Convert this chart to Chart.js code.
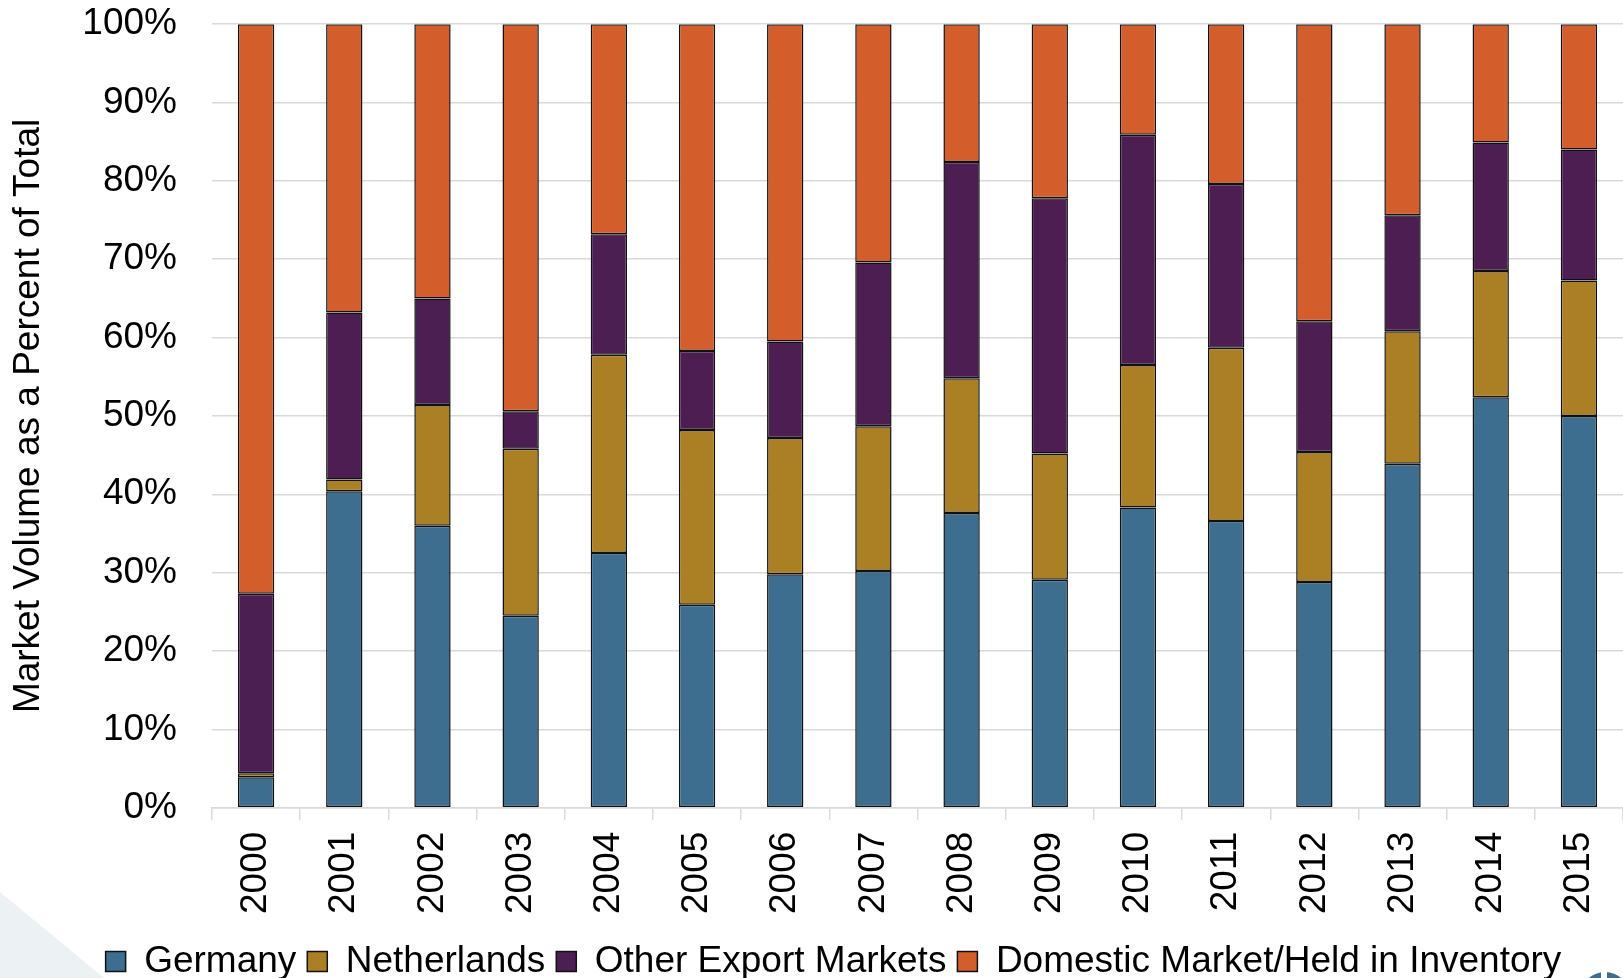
<!DOCTYPE html>
<html>
<head>
<meta charset="utf-8">
<script src="https://cdn.jsdelivr.net/npm/chart.js@4"></script>
<style>
  html, body { margin: 0; padding: 0; background: #ffffff; }
  #wrap { position: relative; width: 1623px; height: 978px; overflow: hidden; }
  #deco { position: absolute; left: 0; top: 0; width: 1623px; height: 978px;
          background: #ecf1f4; clip-path: polygon(0 892px, 104px 978px, 0 978px); }
  #logo { position: absolute; left: 1580px; top: 972px; width: 50px; height: 50px;
          border-radius: 50%; background: #3d6e8f; }
  #logogap { position: absolute; left: 1601px; top: 968px; width: 6px; height: 20px; background: #ffffff; }
  canvas { position: absolute; left: 0; top: 0; }
</style>
</head>
<body>
<div id="wrap">
  <div id="deco"></div>
  <div id="logo"></div>
  <div id="logogap"></div>
  <canvas id="c" width="1623" height="978"></canvas>
</div>
<script>
const years = ['2000','2001','2002','2003','2004','2005','2006','2007','2008','2009','2010','2011','2012','2013','2014','2015'];
const germany     = [3.9, 40.4, 36.0, 24.5, 32.5, 25.9, 29.8, 30.2, 37.6, 29.1, 38.3, 36.6, 28.8, 43.9, 52.4, 50.0];
const netherlands = [0.5, 1.5, 15.4, 21.3, 25.3, 22.3, 17.4, 18.5, 17.2, 16.1, 18.2, 22.1, 16.6, 16.9, 16.1, 17.3];
const otherExport = [22.9, 21.3, 13.6, 4.8, 15.4, 10.1, 12.3, 20.9, 27.6, 32.6, 29.4, 20.9, 16.7, 14.8, 16.4, 16.7];
const domestic    = [72.7, 36.8, 35.0, 49.4, 26.8, 41.7, 40.5, 30.4, 17.6, 22.2, 14.1, 20.4, 37.9, 24.4, 15.1, 16.0];
const yTicks = [0, 10, 20, 30, 40, 50, 60, 70, 80, 90, 100];

const FONT = "'Liberation Sans', Arial, sans-serif";
const FS = 37;

const legendShift = {
  id: 'legendShift',
  afterLayout(chart) {
    const lg = chart.legend;
    lg.left += 22; lg.right += 22;
    lg.top += 12; lg.bottom += 12;
  }
};

function ds(label, data, color) {
  return {
    label, data,
    backgroundColor: color,
    borderColor: '#111111',
    borderWidth: 1.5,
    borderSkipped: false,
    barPercentage: 0.412,
    categoryPercentage: 1.0
  };
}

new Chart(document.getElementById('c'), {
  type: 'bar',
  data: {
    labels: years,
    datasets: [
      ds('Germany', germany, '#3d6e8f'),
      ds('Netherlands', netherlands, '#ab8025'),
      ds('Other Export Markets', otherExport, '#4c1e52'),
      ds('Domestic Market/Held in Inventory', domestic, '#d35d2b')
    ]
  },
  options: {
    responsive: false,
    animation: false,
    devicePixelRatio: 1,
    layout: { padding: 0 },
    plugins: {
      tooltip: { enabled: false },
      legend: {
        position: 'bottom',
        labels: {
          boxWidth: 20, boxHeight: 20,
          color: '#000000',
          padding: 11,
          font: { family: FONT, size: FS }
        }
      }
    },
    scales: {
      x: {
        stacked: true,
        afterFit(scale) { scale.paddingLeft = 0; scale.paddingRight = 0; scale.height -= 6; },
        grid: { offset: true, drawOnChartArea: false, drawTicks: true, tickLength: 12, color: '#d9d9d9', lineWidth: 1.5 },
        border: { color: '#d9d9d9', width: 1.5 },
        ticks: { minRotation: 90, maxRotation: 90, color: '#000000', padding: 12, font: { family: FONT, size: FS } }
      },
      y: {
        stacked: true,
        min: 0, max: 100,
        afterBuildTicks(scale) { scale.ticks = yTicks.map(v => ({ value: v })); },
        afterFit(scale) { scale.width = 212; },
        grid: { color: '#d9d9d9', lineWidth: 1.5, drawTicks: true, tickLength: 33, tickColor: 'rgba(0,0,0,0)' },
        border: { display: false },
        ticks: { color: '#000000', padding: 2, font: { family: FONT, size: FS }, callback: v => v + '%' },
        title: {
          display: true,
          text: 'Market Volume as a Percent of Total',
          color: '#000000',
          font: { family: FONT, size: FS },
          padding: { top: 7, bottom: 0 }
        }
      }
    }
  },
  plugins: [legendShift]
});
</script>
</body>
</html>
